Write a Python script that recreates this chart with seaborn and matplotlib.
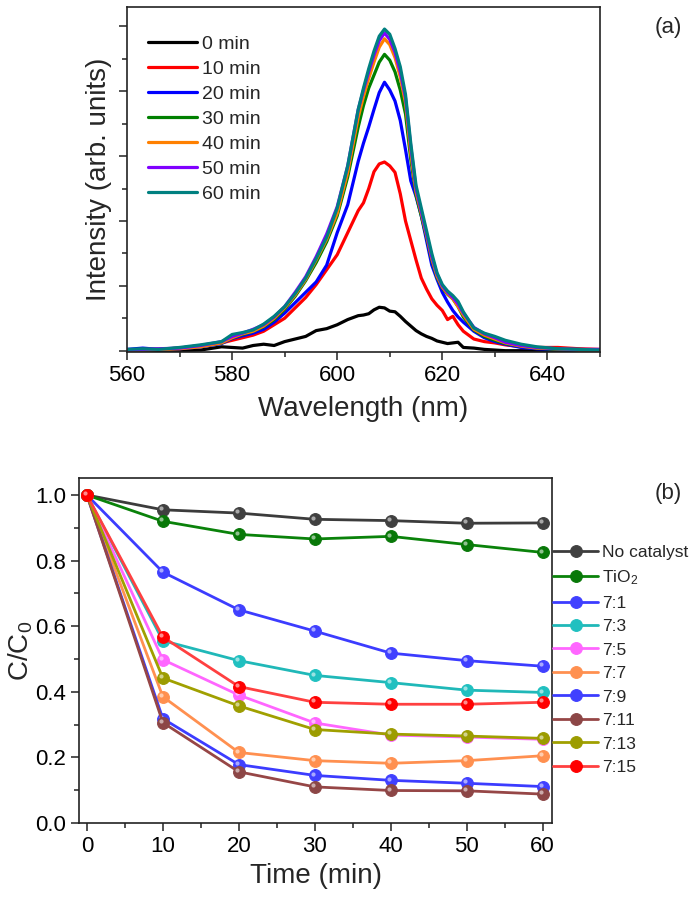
import matplotlib
matplotlib.use("Agg")
import matplotlib.pyplot as plt
import matplotlib.transforms as mtransforms
import numpy as np
import pandas as pd
import seaborn as sns

# ---- (a) emission spectra --------------------------------------------------
WAVELENGTH = [560, 563, 566, 570, 574, 578, 580, 582, 584, 586, 588, 590, 592, 594, 596, 598,
              600, 602, 604, 605, 606, 607, 608, 609, 610, 611, 612, 613, 614, 615, 616, 617,
              618, 619, 620, 621, 622, 623, 624, 626, 628, 630, 632, 635, 638, 642, 646, 650]

I_0MIN = [0.00, 0.00, 0.00, 0.00, 0.01, 0.06, 0.05, 0.04, 0.08, 0.10, 0.08, 0.14, 0.18, 0.22, 0.31, 0.34,
          0.40, 0.48, 0.54, 0.55, 0.57, 0.63, 0.67, 0.66, 0.61, 0.60, 0.53, 0.45, 0.38, 0.31, 0.26, 0.22,
          0.19, 0.15, 0.13, 0.11, 0.12, 0.13, 0.05, 0.04, 0.02, 0.01, 0.00, 0.00, 0.00, 0.00, 0.00, 0.00]
I_10MIN = [0.01, 0.02, 0.02, 0.04, 0.08, 0.12, 0.16, 0.20, 0.24, 0.30, 0.40, 0.50, 0.66, 0.82, 1.02, 1.25,
           1.48, 1.82, 2.16, 2.28, 2.50, 2.76, 2.88, 2.91, 2.85, 2.75, 2.42, 2.00, 1.70, 1.40, 1.12, 0.95,
           0.80, 0.70, 0.62, 0.48, 0.53, 0.40, 0.30, 0.18, 0.14, 0.12, 0.09, 0.06, 0.05, 0.05, 0.03, 0.02]
I_20MIN = [0.02, 0.04, 0.02, 0.03, 0.06, 0.11, 0.19, 0.23, 0.27, 0.33, 0.44, 0.58, 0.74, 0.90, 1.06, 1.32,
           1.82, 2.25, 2.92, 3.20, 3.45, 3.72, 3.98, 4.14, 4.02, 3.85, 3.55, 3.10, 2.62, 2.38, 2.08, 1.70,
           1.32, 1.10, 0.90, 0.75, 0.62, 0.52, 0.44, 0.30, 0.20, 0.14, 0.10, 0.05, 0.03, 0.02, 0.01, 0.01]
I_30MIN = [0.01, 0.02, 0.02, 0.04, 0.07, 0.12, 0.20, 0.25, 0.30, 0.37, 0.48, 0.64, 0.84, 1.08, 1.36, 1.68,
           2.08, 2.68, 3.45, 3.78, 4.05, 4.25, 4.45, 4.57, 4.48, 4.30, 4.02, 3.65, 2.95, 2.40, 2.08, 1.75,
           1.40, 1.13, 0.97, 0.87, 0.80, 0.68, 0.52, 0.32, 0.22, 0.16, 0.11, 0.07, 0.04, 0.02, 0.02, 0.01]
I_40MIN = [0.01, 0.01, 0.02, 0.03, 0.06, 0.12, 0.20, 0.26, 0.30, 0.38, 0.50, 0.66, 0.86, 1.10, 1.40, 1.72,
           2.12, 2.75, 3.60, 3.92, 4.20, 4.45, 4.68, 4.81, 4.72, 4.52, 4.22, 3.82, 3.05, 2.45, 2.12, 1.78,
           1.42, 1.15, 0.98, 0.88, 0.80, 0.68, 0.55, 0.33, 0.24, 0.18, 0.12, 0.07, 0.04, 0.03, 0.01, 0.01]
I_50MIN = [0.01, 0.02, 0.03, 0.04, 0.08, 0.14, 0.22, 0.27, 0.33, 0.40, 0.52, 0.68, 0.90, 1.14, 1.45, 1.80,
           2.22, 2.85, 3.72, 4.02, 4.30, 4.56, 4.78, 4.90, 4.80, 4.60, 4.30, 3.90, 3.15, 2.50, 2.15, 1.80,
           1.45, 1.18, 1.00, 0.90, 0.82, 0.72, 0.58, 0.36, 0.26, 0.20, 0.13, 0.08, 0.05, 0.03, 0.02, 0.02]
I_60MIN = [0.02, 0.03, 0.02, 0.05, 0.09, 0.14, 0.25, 0.28, 0.32, 0.41, 0.53, 0.68, 0.88, 1.12, 1.42, 1.75,
           2.20, 2.85, 3.72, 4.05, 4.35, 4.62, 4.85, 4.96, 4.88, 4.66, 4.38, 3.95, 3.20, 2.55, 2.20, 1.85,
           1.50, 1.20, 1.02, 0.92, 0.85, 0.76, 0.60, 0.35, 0.27, 0.22, 0.16, 0.10, 0.06, 0.03, 0.02, 0.01]

SPEC_LABELS = ['0 min', '10 min', '20 min', '30 min', '40 min', '50 min', '60 min']
SPEC_COLORS = ['#000000', '#ff0000', '#0000ff', '#008000', '#ff8000', '#8000ff', '#008080']

# ---- (b) degradation kinetics ----------------------------------------------
TIME = [0, 10, 20, 30, 40, 50, 60]

C_NO_CAT = [1.0, 0.955, 0.945, 0.926, 0.922, 0.914, 0.915]
C_TIO2   = [1.0, 0.920, 0.880, 0.866, 0.874, 0.849, 0.825]
C_7_1    = [1.0, 0.765, 0.650, 0.585, 0.518, 0.495, 0.478]
C_7_3    = [1.0, 0.556, 0.495, 0.450, 0.428, 0.405, 0.398]
C_7_5    = [1.0, 0.498, 0.390, 0.305, 0.268, 0.262, 0.255]
C_7_7    = [1.0, 0.385, 0.215, 0.190, 0.182, 0.190, 0.205]
C_7_9    = [1.0, 0.318, 0.178, 0.145, 0.130, 0.121, 0.111]
C_7_11   = [1.0, 0.306, 0.156, 0.110, 0.099, 0.098, 0.088]
C_7_13   = [1.0, 0.442, 0.357, 0.285, 0.271, 0.265, 0.258]
C_7_15   = [1.0, 0.567, 0.416, 0.368, 0.362, 0.362, 0.368]

KIN_LABELS = ['No catalyst', 'TiO$_2$', '7:1', '7:3', '7:5', '7:7', '7:9', '7:11', '7:13', '7:15']
KIN_COLORS = ['#3c3c3c', '#0a820a', '#3c3cff', '#20b8b8', '#ff66ff',
              '#ff9050', '#3c3cff', '#964646', '#a0a000', '#ff4040']
KIN_MARKER = ['#404040', '#087808', '#4040ff', '#20c0c0', '#ff66ff',
              '#ff9050', '#4040ff', '#8c4646', '#9c9c00', '#ff0000']

# ===================================================================================================
sns.set_style('ticks')
plt.rcParams['font.family'] = ['Liberation Sans', 'DejaVu Sans']
plt.rcParams['mathtext.default'] = 'regular'

fig = plt.figure(figsize=(7, 9), dpi=100)
ax_a = fig.add_axes([0.1814, 0.6089, 0.6757, 0.3833])
ax_b = fig.add_axes([0.1133, 0.0856, 0.6750, 0.3833])

spectra = [I_0MIN, I_10MIN, I_20MIN, I_30MIN, I_40MIN, I_50MIN, I_60MIN]
for vals, lab, col in zip(spectra, SPEC_LABELS, SPEC_COLORS):
    sns.lineplot(x=WAVELENGTH, y=vals, ax=ax_a, color=col, linewidth=2.3, label=lab)

ax_a.set_xlim(560, 650)
ax_a.set_ylim(-0.02, 5.3)
ax_a.set_xticks(np.arange(560, 641, 20))
ax_a.set_xticks(np.arange(570, 651, 20), minor=True)
ax_a.set_yticks(np.arange(0, 6, 1))
ax_a.set_yticks(np.arange(0.5, 5.3, 1), minor=True)
ax_a.set_yticklabels([])
ax_a.set_xlabel('Wavelength (nm)', fontsize=20, labelpad=7)
ax_a.set_ylabel('Intensity (arb. units)', fontsize=20, labelpad=1.5)
ax_a.legend(loc='upper left', bbox_to_anchor=(0.045, 0.917), frameon=False, fontsize=14,
            handlelength=2.5, handletextpad=0.25, labelspacing=0.38, borderpad=0, borderaxespad=0)

series = [C_NO_CAT, C_TIO2, C_7_1, C_7_3, C_7_5, C_7_7, C_7_9, C_7_11, C_7_13, C_7_15]
shine = mtransforms.offset_copy(ax_b.transData, fig=fig, x=-1.3, y=1.3, units='points')
for vals, lab, col, mcol in zip(series, KIN_LABELS, KIN_COLORS, KIN_MARKER):
    sns.lineplot(x=TIME, y=vals, ax=ax_b, color=col, linewidth=2.0, marker='o', markersize=8.5,
                 markerfacecolor=mcol, markeredgecolor=mcol, label=lab)
    ax_b.plot(TIME, vals, linestyle='none', marker='o', markersize=3, color='white', alpha=0.55,
              markeredgewidth=0, transform=shine)

ax_b.set_xlim(-1, 61.2)
ax_b.set_ylim(0, 1.052)
ax_b.set_xticks(np.arange(0, 61, 10))
ax_b.set_xticks(np.arange(5, 60, 10), minor=True)
ax_b.set_yticks(np.arange(0, 1.01, 0.2))
ax_b.set_yticks(np.arange(0.1, 1.0, 0.2), minor=True)
ax_b.yaxis.set_major_formatter(matplotlib.ticker.FormatStrFormatter('%.1f'))
ax_b.set_xlabel('Time (min)', fontsize=20, labelpad=4)
ax_b.set_ylabel('C/C$_0$', fontsize=20, labelpad=0)
ax_b.legend(loc='upper left', bbox_to_anchor=(1.003, 0.806), frameon=False, fontsize=12.5,
            handlelength=2.6, handletextpad=0.2, labelspacing=0.48, borderpad=0, borderaxespad=0)

for ax in (ax_a, ax_b):
    for sp in ax.spines.values():
        sp.set_visible(True)
        sp.set_linewidth(1.2)
        sp.set_color('#222222')
    ax.tick_params(which='major', direction='out', length=5.5, width=1.1, labelsize=16, pad=4,
                   colors='#222222', labelcolor='black')
    ax.tick_params(which='minor', direction='out', length=3.5, width=1.1, colors='#222222')

fig.text(0.955, 0.969, '(a)', fontsize=16, ha='center', va='center')
fig.text(0.955, 0.452, '(b)', fontsize=16, ha='center', va='center')

fig.savefig('out.png', dpi=100)
